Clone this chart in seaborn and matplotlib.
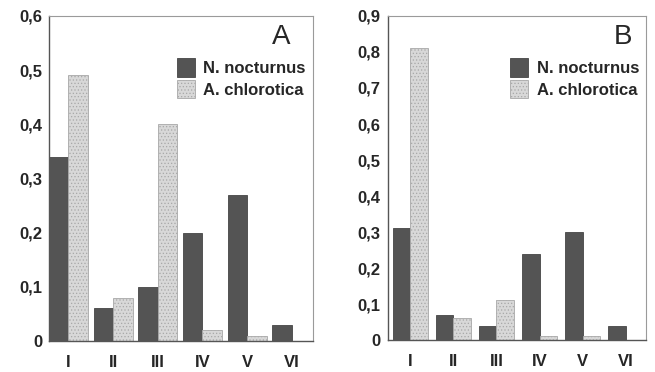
import matplotlib
matplotlib.use("Agg")
import matplotlib.pyplot as plt
import seaborn as sns
import pandas as pd
from matplotlib.patches import Patch

categories = ["I", "II", "III", "IV", "V", "VI"]
series_names = ["N. nocturnus", "A. chlorotica"]
a_nocturnus = [0.34, 0.06, 0.10, 0.20, 0.27, 0.03]
a_chlorotica = [0.49, 0.08, 0.40, 0.02, 0.01, 0.0]
b_nocturnus = [0.31, 0.07, 0.04, 0.24, 0.30, 0.04]
b_chlorotica = [0.81, 0.06, 0.11, 0.01, 0.01, 0.0]
a_yticks = [0, 0.1, 0.2, 0.3, 0.4, 0.5, 0.6]
a_yticklabels = ["0", "0,1", "0,2", "0,3", "0,4", "0,5", "0,6"]
b_yticks = [0, 0.1, 0.2, 0.3, 0.4, 0.5, 0.6, 0.7, 0.8, 0.9]
b_yticklabels = ["0", "0,1", "0,2", "0,3", "0,4", "0,5", "0,6", "0,7", "0,8", "0,9"]

sns.set_style("white")
plt.rcParams["font.family"] = ["Liberation Sans", "DejaVu Sans"]
plt.rcParams["hatch.linewidth"] = 0.5

dark = "#545454"
light = "#d8d8d8"


def make_df(n, c):
    return pd.DataFrame({
        "cat": categories * 2,
        "series": [series_names[0]] * len(categories) + [series_names[1]] * len(categories),
        "value": list(n) + list(c),
    })


fig = plt.figure(figsize=(6.55, 3.72), dpi=100)
axA = fig.add_axes([0.0748, 0.0833, 0.403, 0.874])
axB = fig.add_axes([0.592, 0.0860, 0.395, 0.871])


def draw(ax, n, c, yticks, yticklabels, ymax, letter, width, xlim, lx):
    df = make_df(n, c)
    sns.barplot(data=df, x="cat", y="value", hue="series", hue_order=series_names,
                palette=[dark, light], width=width, ax=ax, legend=False,
                saturation=1, edgecolor="#444444", linewidth=0.6)
    for i, container in enumerate(ax.containers):
        for bar in container:
            if i == 1:
                bar.set_hatch(".....")
                bar.set_edgecolor("#a8a8a8")
            else:
                bar.set_edgecolor("#454545")
    ax.set_ylim(0, ymax)
    ax.set_xlim(*xlim)
    ax.set_yticks(yticks)
    ax.set_yticklabels(yticklabels, fontsize=12, fontweight="bold")
    ax.set_xticks(range(len(categories)))
    ax.set_xticklabels(categories, fontsize=12, fontweight="bold")
    ax.tick_params(axis="both", length=0)
    ax.tick_params(axis="x", pad=10)
    ax.tick_params(axis="y", pad=5)
    ax.set_xlabel("")
    ax.set_ylabel("")
    for side in ["top", "right"]:
        ax.spines[side].set_color("#9a9a9a")
        ax.spines[side].set_linewidth(0.8)
    for side in ["left", "bottom"]:
        ax.spines[side].set_color("#555555")
        ax.spines[side].set_linewidth(1.0)
    handles = [Patch(facecolor=dark, edgecolor="#454545", linewidth=0.6),
               Patch(facecolor=light, edgecolor="#a8a8a8", hatch=".....", linewidth=0.6)]
    ax.legend(handles, series_names, loc="upper right", bbox_to_anchor=(1.01, 0.9),
              frameon=False, prop={"weight": "bold", "size": 12},
              handlelength=1.1, handleheight=1.3, handletextpad=0.5,
              labelspacing=0.2, borderaxespad=0.2)
    ax.text(lx, 0.975, letter, transform=ax.transAxes, ha="right", va="top",
            fontsize=20)


draw(axA, a_nocturnus, a_chlorotica, a_yticks, a_yticklabels, 0.6, "A", 0.87, (-0.435, 5.475), 0.915)
draw(axB, b_nocturnus, b_chlorotica, b_yticks, b_yticklabels, 0.9, "B", 0.81, (-0.52, 5.48), 0.944)

fig.savefig("out.png", dpi=100)
